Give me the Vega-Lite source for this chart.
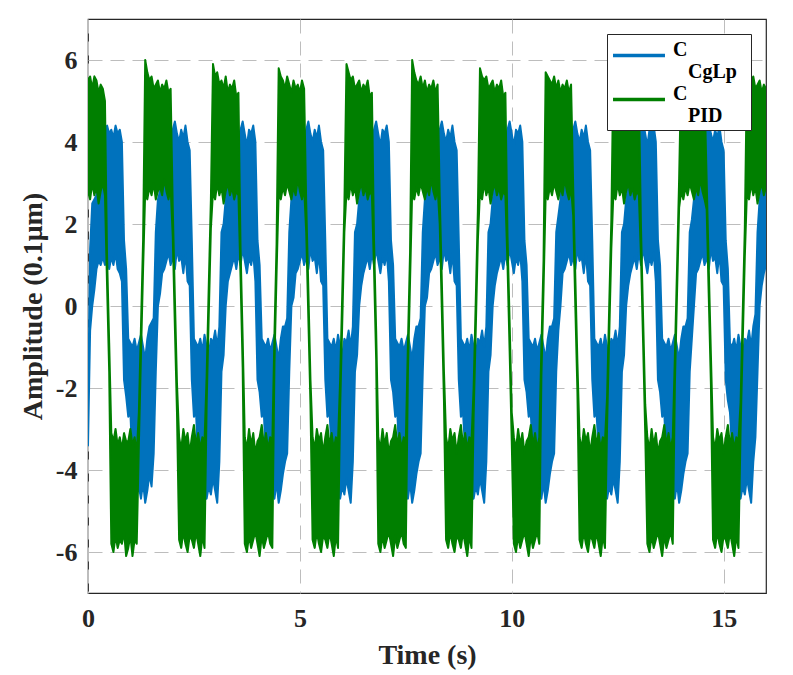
{
  "$schema": "https://vega.github.io/schema/vega-lite/v6.json",
  "width": 678,
  "height": 574,
  "autosize": {"type": "none"},
  "padding": {"left": 88, "top": 19, "right": 27, "bottom": 82},
  "background": "white",
  "data": {
    "values": [
      {"t":0.00,"bl":-3.4,"bh":-2.6,"gl":2.8,"gh":5.5},
      {"t":0.05,"bl":-0.6,"bh":1.4,"gl":2.6,"gh":5.6},
      {"t":0.10,"bl":0.0,"bh":2.5,"gl":3.0,"gh":5.3},
      {"t":0.15,"bl":0.4,"bh":2.6,"gl":2.7,"gh":5.6},
      {"t":0.20,"bl":0.9,"bh":2.7,"gl":2.9,"gh":5.5},
      {"t":0.25,"bl":1.1,"bh":3.2,"gl":2.5,"gh":5.2},
      {"t":0.30,"bl":1.0,"bh":3.8,"gl":2.8,"gh":5.4},
      {"t":0.35,"bl":1.2,"bh":4.0,"gl":3.0,"gh":5.3},
      {"t":0.40,"bl":1.0,"bh":4.3,"gl":2.7,"gh":5.0},
      {"t":0.45,"bl":1.3,"bh":4.4,"gl":0.5,"gh":1.2},
      {"t":0.50,"bl":0.9,"bh":4.2,"gl":-1.6,"gh":-0.9},
      {"t":0.55,"bl":1.2,"bh":4.3,"gl":-5.8,"gh":-3.1},
      {"t":0.60,"bl":1.0,"bh":4.1,"gl":-6.0,"gh":-3.3},
      {"t":0.65,"bl":1.3,"bh":4.4,"gl":-5.6,"gh":-3.0},
      {"t":0.70,"bl":0.9,"bh":4.2,"gl":-5.9,"gh":-3.4},
      {"t":0.75,"bl":0.8,"bh":4.3,"gl":-5.7,"gh":-3.2},
      {"t":0.80,"bl":0.6,"bh":4.0,"gl":-5.8,"gh":-3.5},
      {"t":0.85,"bl":-1.8,"bh":1.6,"gl":-5.5,"gh":-3.1},
      {"t":0.90,"bl":-2.2,"bh":0.9,"gl":-6.1,"gh":-3.3},
      {"t":0.95,"bl":-2.7,"bh":-0.8,"gl":-5.9,"gh":-3.3},
      {"t":1.00,"bl":-2.6,"bh":-0.9,"gl":-5.6,"gh":-3.0},
      {"t":1.05,"bl":-3.8,"bh":-1.0,"gl":-6.1,"gh":-3.4},
      {"t":1.10,"bl":-4.2,"bh":-0.8,"gl":-5.7,"gh":-3.2},
      {"t":1.15,"bl":-4.6,"bh":-1.1,"gl":-5.8,"gh":-3.6},
      {"t":1.20,"bl":-4.4,"bh":-0.9,"gl":-3.4,"gh":-2.6},
      {"t":1.25,"bl":-4.7,"bh":-0.7,"gl":-1.2,"gh":-0.5},
      {"t":1.30,"bl":-4.3,"bh":-1.0,"gl":0.9,"gh":1.6},
      {"t":1.35,"bl":-4.8,"bh":-1.3,"gl":2.8,"gh":6.0},
      {"t":1.40,"bl":-4.5,"bh":-0.8,"gl":2.6,"gh":5.7},
      {"t":1.45,"bl":-4.1,"bh":-0.5,"gl":2.9,"gh":5.5},
      {"t":1.50,"bl":-4.4,"bh":-0.4,"gl":2.7,"gh":5.6},
      {"t":1.55,"bl":-3.6,"bh":-0.3,"gl":3.0,"gh":5.3},
      {"t":1.60,"bl":-1.6,"bh":1.8,"gl":2.6,"gh":5.4},
      {"t":1.65,"bl":0.0,"bh":2.6,"gl":2.8,"gh":5.5},
      {"t":1.70,"bl":0.3,"bh":2.8,"gl":2.9,"gh":5.2},
      {"t":1.75,"bl":0.8,"bh":3.8,"gl":2.7,"gh":5.4},
      {"t":1.80,"bl":0.9,"bh":3.9,"gl":3.1,"gh":5.3},
      {"t":1.85,"bl":1.1,"bh":4.2,"gl":2.8,"gh":5.5},
      {"t":1.90,"bl":1.3,"bh":4.4,"gl":2.6,"gh":5.2},
      {"t":1.95,"bl":1.0,"bh":4.1,"gl":2.9,"gh":5.3},
      {"t":2.00,"bl":1.2,"bh":4.3,"gl":1.7,"gh":2.4},
      {"t":2.05,"bl":0.9,"bh":4.5,"gl":-0.5,"gh":0.2},
      {"t":2.10,"bl":1.4,"bh":4.2,"gl":-2.6,"gh":-1.9},
      {"t":2.15,"bl":1.1,"bh":4.0,"gl":-5.7,"gh":-3.2},
      {"t":2.20,"bl":1.2,"bh":4.3,"gl":-5.9,"gh":-3.5},
      {"t":2.25,"bl":0.8,"bh":4.1,"gl":-5.5,"gh":-3.0},
      {"t":2.30,"bl":1.3,"bh":4.4,"gl":-5.8,"gh":-3.3},
      {"t":2.35,"bl":0.6,"bh":4.0,"gl":-6.0,"gh":-3.1},
      {"t":2.40,"bl":0.5,"bh":3.8,"gl":-5.6,"gh":-3.6},
      {"t":2.45,"bl":-1.8,"bh":1.6,"gl":-5.7,"gh":-3.2},
      {"t":2.50,"bl":-2.7,"bh":-0.8,"gl":-5.9,"gh":-2.9},
      {"t":2.55,"bl":-2.6,"bh":-0.9,"gl":-5.5,"gh":-3.4},
      {"t":2.60,"bl":-3.8,"bh":-1.0,"gl":-5.8,"gh":-3.1},
      {"t":2.65,"bl":-4.1,"bh":-0.8,"gl":-6.1,"gh":-3.5},
      {"t":2.70,"bl":-4.6,"bh":-1.1,"gl":-5.6,"gh":-3.2},
      {"t":2.75,"bl":-4.3,"bh":-0.7,"gl":-5.9,"gh":-3.3},
      {"t":2.80,"bl":-4.7,"bh":-1.0,"gl":-2.4,"gh":-1.7},
      {"t":2.85,"bl":-4.4,"bh":-1.2,"gl":-0.2,"gh":0.5},
      {"t":2.90,"bl":-4.6,"bh":-0.8,"gl":1.9,"gh":2.6},
      {"t":2.95,"bl":-4.2,"bh":-0.9,"gl":2.8,"gh":5.9},
      {"t":3.00,"bl":-4.5,"bh":-0.6,"gl":2.6,"gh":5.6},
      {"t":3.05,"bl":-4.8,"bh":-1.0,"gl":3.0,"gh":5.7},
      {"t":3.10,"bl":-3.8,"bh":-0.5,"gl":2.7,"gh":5.4},
      {"t":3.15,"bl":-1.6,"bh":1.8,"gl":2.9,"gh":5.5},
      {"t":3.20,"bl":-1.2,"bh":2.0,"gl":2.5,"gh":5.3},
      {"t":3.25,"bl":0.0,"bh":2.6,"gl":2.8,"gh":5.6},
      {"t":3.30,"bl":0.6,"bh":3.0,"gl":3.0,"gh":5.2},
      {"t":3.35,"bl":0.8,"bh":3.8,"gl":2.7,"gh":5.4},
      {"t":3.40,"bl":1.0,"bh":3.9,"gl":2.9,"gh":5.3},
      {"t":3.45,"bl":1.2,"bh":4.2,"gl":2.6,"gh":5.5},
      {"t":3.50,"bl":0.9,"bh":4.4,"gl":2.8,"gh":5.1},
      {"t":3.55,"bl":1.3,"bh":4.1,"gl":2.7,"gh":5.2},
      {"t":3.60,"bl":1.0,"bh":4.3,"gl":0.7,"gh":1.4},
      {"t":3.65,"bl":1.4,"bh":4.5,"gl":-1.5,"gh":-0.8},
      {"t":3.70,"bl":1.1,"bh":4.2,"gl":-5.8,"gh":-3.2},
      {"t":3.75,"bl":0.8,"bh":3.9,"gl":-6.0,"gh":-3.5},
      {"t":3.80,"bl":1.2,"bh":4.3,"gl":-5.6,"gh":-3.0},
      {"t":3.85,"bl":1.0,"bh":4.2,"gl":-5.9,"gh":-3.4},
      {"t":3.90,"bl":1.3,"bh":4.4,"gl":-5.7,"gh":-3.1},
      {"t":3.95,"bl":0.6,"bh":4.0,"gl":-5.5,"gh":-3.6},
      {"t":4.00,"bl":-1.8,"bh":1.6,"gl":-5.8,"gh":-3.3},
      {"t":4.05,"bl":-2.1,"bh":1.0,"gl":-6.1,"gh":-3.2},
      {"t":4.10,"bl":-2.7,"bh":-0.8,"gl":-5.6,"gh":-2.9},
      {"t":4.15,"bl":-2.6,"bh":-0.9,"gl":-5.9,"gh":-3.4},
      {"t":4.20,"bl":-3.8,"bh":-1.0,"gl":-5.7,"gh":-3.1},
      {"t":4.25,"bl":-4.2,"bh":-0.8,"gl":-5.5,"gh":-3.5},
      {"t":4.30,"bl":-4.6,"bh":-1.1,"gl":-5.8,"gh":-3.2},
      {"t":4.35,"bl":-4.4,"bh":-0.9,"gl":-5.9,"gh":-3.3},
      {"t":4.40,"bl":-4.7,"bh":-0.7,"gl":-1.4,"gh":-0.7},
      {"t":4.45,"bl":-4.3,"bh":-1.0,"gl":0.8,"gh":1.5},
      {"t":4.50,"bl":-4.8,"bh":-1.3,"gl":2.8,"gh":5.8},
      {"t":4.55,"bl":-4.5,"bh":-0.8,"gl":2.6,"gh":5.6},
      {"t":4.60,"bl":-4.1,"bh":-0.5,"gl":2.9,"gh":5.5},
      {"t":4.65,"bl":-3.8,"bh":-0.5,"gl":2.7,"gh":5.3},
      {"t":4.70,"bl":-3.6,"bh":-0.3,"gl":3.0,"gh":5.6},
      {"t":4.75,"bl":-1.6,"bh":1.8,"gl":2.8,"gh":5.4},
      {"t":4.80,"bl":0.0,"bh":2.6,"gl":2.6,"gh":5.2},
      {"t":4.85,"bl":0.2,"bh":2.7,"gl":2.9,"gh":5.5},
      {"t":4.90,"bl":0.8,"bh":3.8,"gl":2.7,"gh":5.3},
      {"t":4.95,"bl":0.9,"bh":3.9,"gl":3.1,"gh":5.4},
      {"t":5.00,"bl":1.1,"bh":4.2,"gl":2.8,"gh":5.2},
      {"t":5.05,"bl":1.3,"bh":4.4,"gl":2.6,"gh":5.5},
      {"t":5.10,"bl":1.0,"bh":4.1,"gl":2.9,"gh":5.3},
      {"t":5.15,"bl":1.2,"bh":4.3,"gl":1.8,"gh":2.5},
      {"t":5.20,"bl":0.9,"bh":4.5,"gl":-0.3,"gh":0.4},
      {"t":5.25,"bl":1.4,"bh":4.2,"gl":-2.4,"gh":-1.8},
      {"t":5.30,"bl":1.1,"bh":4.0,"gl":-5.7,"gh":-3.2},
      {"t":5.35,"bl":1.2,"bh":4.3,"gl":-5.9,"gh":-3.5},
      {"t":5.40,"bl":0.8,"bh":4.1,"gl":-5.5,"gh":-3.0},
      {"t":5.45,"bl":1.3,"bh":4.4,"gl":-5.8,"gh":-3.3},
      {"t":5.50,"bl":0.6,"bh":4.0,"gl":-6.0,"gh":-3.1},
      {"t":5.55,"bl":0.5,"bh":3.8,"gl":-5.6,"gh":-3.6},
      {"t":5.60,"bl":-1.8,"bh":1.6,"gl":-5.7,"gh":-3.2},
      {"t":5.65,"bl":-2.7,"bh":-0.8,"gl":-5.9,"gh":-2.9},
      {"t":5.70,"bl":-2.6,"bh":-0.9,"gl":-5.5,"gh":-3.4},
      {"t":5.75,"bl":-3.5,"bh":-1.0,"gl":-5.8,"gh":-3.1},
      {"t":5.80,"bl":-3.9,"bh":-0.8,"gl":-6.1,"gh":-3.5},
      {"t":5.85,"bl":-4.6,"bh":-1.1,"gl":-5.6,"gh":-3.2},
      {"t":5.90,"bl":-4.3,"bh":-0.7,"gl":-5.9,"gh":-3.3},
      {"t":5.95,"bl":-4.7,"bh":-1.0,"gl":-2.5,"gh":-1.8},
      {"t":6.00,"bl":-4.4,"bh":-1.2,"gl":-0.4,"gh":0.3},
      {"t":6.05,"bl":-4.6,"bh":-0.8,"gl":1.8,"gh":2.4},
      {"t":6.10,"bl":-4.2,"bh":-0.9,"gl":2.8,"gh":5.9},
      {"t":6.15,"bl":-4.5,"bh":-0.6,"gl":2.6,"gh":5.7},
      {"t":6.20,"bl":-4.8,"bh":-1.0,"gl":3.0,"gh":5.5},
      {"t":6.25,"bl":-3.8,"bh":-0.5,"gl":2.7,"gh":5.6},
      {"t":6.30,"bl":-1.6,"bh":1.8,"gl":2.9,"gh":5.3},
      {"t":6.35,"bl":-1.2,"bh":2.0,"gl":2.5,"gh":5.4},
      {"t":6.40,"bl":0.0,"bh":2.6,"gl":2.8,"gh":5.5},
      {"t":6.45,"bl":0.5,"bh":2.9,"gl":3.0,"gh":5.2},
      {"t":6.50,"bl":0.8,"bh":3.8,"gl":2.7,"gh":5.4},
      {"t":6.55,"bl":1.0,"bh":3.9,"gl":2.9,"gh":5.3},
      {"t":6.60,"bl":1.2,"bh":4.2,"gl":2.6,"gh":5.5},
      {"t":6.65,"bl":0.9,"bh":4.4,"gl":2.8,"gh":5.1},
      {"t":6.70,"bl":1.3,"bh":4.1,"gl":2.7,"gh":5.2},
      {"t":6.75,"bl":1.0,"bh":4.3,"gl":0.9,"gh":1.6},
      {"t":6.80,"bl":1.4,"bh":4.5,"gl":-1.3,"gh":-0.6},
      {"t":6.85,"bl":1.1,"bh":4.2,"gl":-5.8,"gh":-3.2},
      {"t":6.90,"bl":0.8,"bh":3.9,"gl":-6.0,"gh":-3.5},
      {"t":6.95,"bl":1.2,"bh":4.3,"gl":-5.6,"gh":-3.0},
      {"t":7.00,"bl":1.0,"bh":4.2,"gl":-5.9,"gh":-3.4},
      {"t":7.05,"bl":1.3,"bh":4.4,"gl":-5.7,"gh":-3.1},
      {"t":7.10,"bl":0.6,"bh":4.0,"gl":-5.5,"gh":-3.6},
      {"t":7.15,"bl":-1.8,"bh":1.6,"gl":-5.8,"gh":-3.3},
      {"t":7.20,"bl":-2.1,"bh":1.0,"gl":-6.1,"gh":-3.2},
      {"t":7.25,"bl":-2.7,"bh":-0.8,"gl":-5.6,"gh":-2.9},
      {"t":7.30,"bl":-2.6,"bh":-0.9,"gl":-5.9,"gh":-3.4},
      {"t":7.35,"bl":-3.8,"bh":-1.0,"gl":-5.7,"gh":-3.1},
      {"t":7.40,"bl":-4.2,"bh":-0.8,"gl":-5.5,"gh":-3.5},
      {"t":7.45,"bl":-4.6,"bh":-1.1,"gl":-5.8,"gh":-3.2},
      {"t":7.50,"bl":-4.4,"bh":-0.9,"gl":-5.9,"gh":-3.3},
      {"t":7.55,"bl":-4.7,"bh":-0.7,"gl":-1.6,"gh":-0.9},
      {"t":7.60,"bl":-4.3,"bh":-1.0,"gl":0.6,"gh":1.3},
      {"t":7.65,"bl":-4.8,"bh":-1.3,"gl":2.8,"gh":6.0},
      {"t":7.70,"bl":-4.5,"bh":-0.8,"gl":2.6,"gh":5.7},
      {"t":7.75,"bl":-4.1,"bh":-0.5,"gl":2.9,"gh":5.5},
      {"t":7.80,"bl":-3.8,"bh":-0.5,"gl":2.7,"gh":5.4},
      {"t":7.85,"bl":-3.6,"bh":-0.3,"gl":3.0,"gh":5.6},
      {"t":7.90,"bl":-1.6,"bh":1.8,"gl":2.8,"gh":5.3},
      {"t":7.95,"bl":0.0,"bh":2.6,"gl":2.6,"gh":5.5},
      {"t":8.00,"bl":0.2,"bh":2.7,"gl":2.9,"gh":5.2},
      {"t":8.05,"bl":0.8,"bh":3.8,"gl":2.7,"gh":5.4},
      {"t":8.10,"bl":0.9,"bh":3.9,"gl":3.1,"gh":5.3},
      {"t":8.15,"bl":1.1,"bh":4.2,"gl":2.8,"gh":5.5},
      {"t":8.20,"bl":1.3,"bh":4.4,"gl":2.6,"gh":5.2},
      {"t":8.25,"bl":1.0,"bh":4.1,"gl":2.9,"gh":5.4},
      {"t":8.30,"bl":1.2,"bh":4.3,"gl":2.0,"gh":2.7},
      {"t":8.35,"bl":0.9,"bh":4.5,"gl":-0.1,"gh":0.6},
      {"t":8.40,"bl":1.4,"bh":4.2,"gl":-2.3,"gh":-1.6},
      {"t":8.45,"bl":1.1,"bh":4.0,"gl":-5.7,"gh":-3.2},
      {"t":8.50,"bl":1.2,"bh":4.3,"gl":-5.9,"gh":-3.5},
      {"t":8.55,"bl":0.8,"bh":4.1,"gl":-5.5,"gh":-3.0},
      {"t":8.60,"bl":1.3,"bh":4.4,"gl":-5.8,"gh":-3.3},
      {"t":8.65,"bl":0.6,"bh":4.0,"gl":-6.0,"gh":-3.1},
      {"t":8.70,"bl":0.5,"bh":3.8,"gl":-5.6,"gh":-3.6},
      {"t":8.75,"bl":-1.8,"bh":1.6,"gl":-5.7,"gh":-3.2},
      {"t":8.80,"bl":-2.7,"bh":-0.8,"gl":-5.9,"gh":-2.9},
      {"t":8.85,"bl":-2.6,"bh":-0.9,"gl":-5.5,"gh":-3.4},
      {"t":8.90,"bl":-3.5,"bh":-1.0,"gl":-5.8,"gh":-3.1},
      {"t":8.95,"bl":-3.9,"bh":-0.8,"gl":-6.1,"gh":-3.5},
      {"t":9.00,"bl":-4.6,"bh":-1.1,"gl":-5.6,"gh":-3.2},
      {"t":9.05,"bl":-4.3,"bh":-0.7,"gl":-5.9,"gh":-3.3},
      {"t":9.10,"bl":-4.7,"bh":-1.0,"gl":-2.7,"gh":-2.0},
      {"t":9.15,"bl":-4.4,"bh":-1.2,"gl":-0.6,"gh":0.1},
      {"t":9.20,"bl":-4.6,"bh":-0.8,"gl":1.6,"gh":2.3},
      {"t":9.25,"bl":-4.2,"bh":-0.9,"gl":2.8,"gh":5.8},
      {"t":9.30,"bl":-4.5,"bh":-0.6,"gl":2.6,"gh":5.6},
      {"t":9.35,"bl":-4.8,"bh":-1.0,"gl":3.0,"gh":5.5},
      {"t":9.40,"bl":-3.8,"bh":-0.5,"gl":2.7,"gh":5.6},
      {"t":9.45,"bl":-1.6,"bh":1.8,"gl":2.9,"gh":5.3},
      {"t":9.50,"bl":-1.2,"bh":2.0,"gl":2.5,"gh":5.4},
      {"t":9.55,"bl":0.0,"bh":2.6,"gl":2.8,"gh":5.5},
      {"t":9.60,"bl":0.5,"bh":2.9,"gl":3.0,"gh":5.2},
      {"t":9.65,"bl":0.8,"bh":3.8,"gl":2.7,"gh":5.4},
      {"t":9.70,"bl":1.0,"bh":3.9,"gl":2.9,"gh":5.3},
      {"t":9.75,"bl":1.2,"bh":4.2,"gl":2.6,"gh":5.5},
      {"t":9.80,"bl":0.9,"bh":4.4,"gl":2.8,"gh":5.1},
      {"t":9.85,"bl":1.3,"bh":4.1,"gl":2.7,"gh":5.2},
      {"t":9.90,"bl":1.0,"bh":4.3,"gl":1.0,"gh":1.7},
      {"t":9.95,"bl":1.4,"bh":4.5,"gl":-1.1,"gh":-0.4},
      {"t":10.00,"bl":1.1,"bh":4.2,"gl":-3.3,"gh":-2.6},
      {"t":10.05,"bl":0.8,"bh":3.9,"gl":-5.8,"gh":-3.2},
      {"t":10.10,"bl":1.2,"bh":4.3,"gl":-6.0,"gh":-3.5},
      {"t":10.15,"bl":1.0,"bh":4.2,"gl":-5.6,"gh":-3.0},
      {"t":10.20,"bl":1.3,"bh":4.4,"gl":-5.9,"gh":-3.4},
      {"t":10.25,"bl":0.6,"bh":4.0,"gl":-5.7,"gh":-3.1},
      {"t":10.30,"bl":-1.8,"bh":1.6,"gl":-5.5,"gh":-3.6},
      {"t":10.35,"bl":-2.1,"bh":1.0,"gl":-5.8,"gh":-3.3},
      {"t":10.40,"bl":-2.7,"bh":-0.8,"gl":-6.1,"gh":-3.2},
      {"t":10.45,"bl":-2.6,"bh":-0.9,"gl":-5.6,"gh":-2.9},
      {"t":10.50,"bl":-3.8,"bh":-1.0,"gl":-5.9,"gh":-3.4},
      {"t":10.55,"bl":-4.2,"bh":-0.8,"gl":-5.7,"gh":-3.1},
      {"t":10.60,"bl":-4.6,"bh":-1.1,"gl":-5.5,"gh":-3.5},
      {"t":10.65,"bl":-4.4,"bh":-0.9,"gl":-5.8,"gh":-3.2},
      {"t":10.70,"bl":-4.7,"bh":-0.7,"gl":-1.7,"gh":-1.0},
      {"t":10.75,"bl":-4.3,"bh":-1.0,"gl":0.4,"gh":1.1},
      {"t":10.80,"bl":-4.8,"bh":-1.3,"gl":2.7,"gh":5.7},
      {"t":10.85,"bl":-4.5,"bh":-0.8,"gl":2.6,"gh":5.6},
      {"t":10.90,"bl":-4.1,"bh":-0.5,"gl":2.9,"gh":5.5},
      {"t":10.95,"bl":-3.8,"bh":-0.5,"gl":2.7,"gh":5.4},
      {"t":11.00,"bl":-3.6,"bh":-0.3,"gl":3.0,"gh":5.6},
      {"t":11.05,"bl":-1.6,"bh":1.8,"gl":2.8,"gh":5.3},
      {"t":11.10,"bl":-0.6,"bh":2.2,"gl":2.6,"gh":5.5},
      {"t":11.15,"bl":0.0,"bh":2.6,"gl":2.9,"gh":5.2},
      {"t":11.20,"bl":0.8,"bh":3.8,"gl":2.7,"gh":5.4},
      {"t":11.25,"bl":0.9,"bh":3.9,"gl":3.1,"gh":5.3},
      {"t":11.30,"bl":1.1,"bh":4.2,"gl":2.8,"gh":5.5},
      {"t":11.35,"bl":1.3,"bh":4.4,"gl":2.6,"gh":5.2},
      {"t":11.40,"bl":1.0,"bh":4.1,"gl":2.9,"gh":5.4},
      {"t":11.45,"bl":1.2,"bh":4.3,"gl":2.2,"gh":2.9},
      {"t":11.50,"bl":0.9,"bh":4.5,"gl":0.0,"gh":0.7},
      {"t":11.55,"bl":1.4,"bh":4.2,"gl":-2.1,"gh":-1.4},
      {"t":11.60,"bl":1.1,"bh":4.0,"gl":-5.7,"gh":-3.2},
      {"t":11.65,"bl":1.2,"bh":4.3,"gl":-5.9,"gh":-3.5},
      {"t":11.70,"bl":0.8,"bh":4.1,"gl":-5.5,"gh":-3.0},
      {"t":11.75,"bl":1.3,"bh":4.4,"gl":-5.8,"gh":-3.3},
      {"t":11.80,"bl":0.6,"bh":4.0,"gl":-6.0,"gh":-3.1},
      {"t":11.85,"bl":0.5,"bh":3.8,"gl":-5.6,"gh":-3.6},
      {"t":11.90,"bl":-1.8,"bh":1.6,"gl":-5.7,"gh":-3.2},
      {"t":11.95,"bl":-2.7,"bh":-0.8,"gl":-5.9,"gh":-2.9},
      {"t":12.00,"bl":-2.6,"bh":-0.9,"gl":-5.5,"gh":-3.4},
      {"t":12.05,"bl":-3.5,"bh":-1.0,"gl":-5.8,"gh":-3.1},
      {"t":12.10,"bl":-3.9,"bh":-0.8,"gl":-6.1,"gh":-3.5},
      {"t":12.15,"bl":-4.6,"bh":-1.1,"gl":-5.6,"gh":-3.2},
      {"t":12.20,"bl":-4.3,"bh":-0.7,"gl":-5.9,"gh":-3.3},
      {"t":12.25,"bl":-4.7,"bh":-1.0,"gl":-2.9,"gh":-2.2},
      {"t":12.30,"bl":-4.4,"bh":-1.2,"gl":-0.7,"gh":0.0},
      {"t":12.35,"bl":-4.6,"bh":-0.8,"gl":1.4,"gh":2.1},
      {"t":12.40,"bl":-4.2,"bh":-0.9,"gl":2.8,"gh":5.9},
      {"t":12.45,"bl":-4.5,"bh":-0.6,"gl":2.6,"gh":5.7},
      {"t":12.50,"bl":-4.8,"bh":-1.0,"gl":3.0,"gh":5.5},
      {"t":12.55,"bl":-3.8,"bh":-0.5,"gl":2.7,"gh":5.6},
      {"t":12.60,"bl":-1.6,"bh":1.8,"gl":2.9,"gh":5.3},
      {"t":12.65,"bl":-1.2,"bh":2.0,"gl":2.5,"gh":5.4},
      {"t":12.70,"bl":0.0,"bh":2.6,"gl":2.8,"gh":5.5},
      {"t":12.75,"bl":0.5,"bh":2.9,"gl":3.0,"gh":5.2},
      {"t":12.80,"bl":0.8,"bh":3.8,"gl":2.7,"gh":5.4},
      {"t":12.85,"bl":1.0,"bh":3.9,"gl":2.9,"gh":5.3},
      {"t":12.90,"bl":1.2,"bh":4.2,"gl":2.6,"gh":5.5},
      {"t":12.95,"bl":0.9,"bh":4.4,"gl":2.8,"gh":5.1},
      {"t":13.00,"bl":1.3,"bh":4.1,"gl":2.7,"gh":5.2},
      {"t":13.05,"bl":1.0,"bh":4.3,"gl":1.2,"gh":1.9},
      {"t":13.10,"bl":1.4,"bh":4.5,"gl":-0.9,"gh":-0.3},
      {"t":13.15,"bl":1.1,"bh":4.2,"gl":-3.1,"gh":-2.4},
      {"t":13.20,"bl":0.8,"bh":3.9,"gl":-5.8,"gh":-3.2},
      {"t":13.25,"bl":1.2,"bh":4.3,"gl":-6.0,"gh":-3.5},
      {"t":13.30,"bl":1.0,"bh":4.2,"gl":-5.6,"gh":-3.0},
      {"t":13.35,"bl":1.3,"bh":4.4,"gl":-5.9,"gh":-3.4},
      {"t":13.40,"bl":0.6,"bh":4.0,"gl":-5.7,"gh":-3.1},
      {"t":13.45,"bl":-1.8,"bh":1.6,"gl":-5.5,"gh":-3.6},
      {"t":13.50,"bl":-2.1,"bh":1.0,"gl":-5.8,"gh":-3.3},
      {"t":13.55,"bl":-2.7,"bh":-0.8,"gl":-6.1,"gh":-3.2},
      {"t":13.60,"bl":-2.6,"bh":-0.9,"gl":-5.6,"gh":-2.9},
      {"t":13.65,"bl":-3.8,"bh":-1.0,"gl":-5.9,"gh":-3.4},
      {"t":13.70,"bl":-4.2,"bh":-0.8,"gl":-5.7,"gh":-3.1},
      {"t":13.75,"bl":-4.6,"bh":-1.1,"gl":-5.5,"gh":-3.5},
      {"t":13.80,"bl":-4.4,"bh":-0.9,"gl":-5.8,"gh":-3.2},
      {"t":13.85,"bl":-4.7,"bh":-0.7,"gl":-1.9,"gh":-1.2},
      {"t":13.90,"bl":-4.3,"bh":-1.0,"gl":0.3,"gh":0.9},
      {"t":13.95,"bl":-4.8,"bh":-1.3,"gl":2.4,"gh":3.1},
      {"t":14.00,"bl":-4.5,"bh":-0.8,"gl":2.8,"gh":5.8},
      {"t":14.05,"bl":-4.1,"bh":-0.5,"gl":2.6,"gh":5.6},
      {"t":14.10,"bl":-3.8,"bh":-0.5,"gl":2.9,"gh":5.5},
      {"t":14.15,"bl":-3.6,"bh":-0.3,"gl":2.7,"gh":5.4},
      {"t":14.20,"bl":-1.6,"bh":1.8,"gl":3.0,"gh":5.6},
      {"t":14.25,"bl":-0.8,"bh":2.1,"gl":2.8,"gh":5.3},
      {"t":14.30,"bl":0.0,"bh":2.6,"gl":2.6,"gh":5.5},
      {"t":14.35,"bl":0.8,"bh":3.8,"gl":2.9,"gh":5.2},
      {"t":14.40,"bl":0.9,"bh":3.9,"gl":2.7,"gh":5.4},
      {"t":14.45,"bl":1.1,"bh":4.2,"gl":3.1,"gh":5.3},
      {"t":14.50,"bl":1.3,"bh":4.4,"gl":2.8,"gh":5.5},
      {"t":14.55,"bl":1.0,"bh":4.1,"gl":2.6,"gh":5.2},
      {"t":14.60,"bl":1.2,"bh":4.3,"gl":2.35,"gh":3.05},
      {"t":14.65,"bl":0.9,"bh":4.5,"gl":0.2,"gh":0.9},
      {"t":14.70,"bl":1.4,"bh":4.2,"gl":-1.9,"gh":-1.2},
      {"t":14.75,"bl":1.1,"bh":4.0,"gl":-5.7,"gh":-3.2},
      {"t":14.80,"bl":1.2,"bh":4.3,"gl":-5.9,"gh":-3.5},
      {"t":14.85,"bl":0.8,"bh":4.1,"gl":-5.5,"gh":-3.0},
      {"t":14.90,"bl":1.3,"bh":4.4,"gl":-5.8,"gh":-3.3},
      {"t":14.95,"bl":0.6,"bh":4.0,"gl":-6.0,"gh":-3.1},
      {"t":15.00,"bl":0.5,"bh":3.8,"gl":-5.6,"gh":-3.6},
      {"t":15.05,"bl":-1.8,"bh":1.6,"gl":-5.7,"gh":-3.2},
      {"t":15.10,"bl":-2.3,"bh":0.9,"gl":-5.9,"gh":-2.9},
      {"t":15.15,"bl":-2.6,"bh":-0.9,"gl":-5.5,"gh":-3.4},
      {"t":15.20,"bl":-3.5,"bh":-1.0,"gl":-5.8,"gh":-3.1},
      {"t":15.25,"bl":-3.9,"bh":-0.8,"gl":-6.1,"gh":-3.5},
      {"t":15.30,"bl":-4.6,"bh":-1.1,"gl":-5.6,"gh":-3.2},
      {"t":15.35,"bl":-4.3,"bh":-0.7,"gl":-5.9,"gh":-3.3},
      {"t":15.40,"bl":-4.7,"bh":-1.0,"gl":-3.05,"gh":-2.35},
      {"t":15.45,"bl":-4.4,"bh":-1.2,"gl":-0.9,"gh":-0.2},
      {"t":15.50,"bl":-4.6,"bh":-0.8,"gl":1.2,"gh":1.9},
      {"t":15.55,"bl":-4.2,"bh":-0.9,"gl":2.8,"gh":5.7},
      {"t":15.60,"bl":-4.5,"bh":-0.6,"gl":2.6,"gh":5.6},
      {"t":15.65,"bl":-4.8,"bh":-1.0,"gl":3.0,"gh":5.5},
      {"t":15.70,"bl":-3.8,"bh":-0.5,"gl":2.7,"gh":5.6},
      {"t":15.75,"bl":-3.2,"bh":-0.2,"gl":2.9,"gh":5.3},
      {"t":15.80,"bl":-1.6,"bh":1.8,"gl":2.5,"gh":5.4},
      {"t":15.85,"bl":0.0,"bh":2.6,"gl":2.8,"gh":5.5},
      {"t":15.90,"bl":0.5,"bh":2.9,"gl":3.0,"gh":5.2},
      {"t":15.95,"bl":0.8,"bh":3.8,"gl":2.7,"gh":5.4},
      {"t":16.00,"bl":1.0,"bh":3.9,"gl":2.9,"gh":5.3}
    ]
  },
  "encoding": {
    "x": {
      "field": "t",
      "type": "quantitative",
      "scale": {"domain": [0, 16], "nice": false},
      "axis": {"title": "Time (s)", "values": [0, 5, 10, 15], "labelFlush": false, "labelPadding": 12, "titlePadding": 10}
    }
  },
  "layer": [
    {
      "mark": {"type": "area", "fill": "#0072BD", "strokeWidth": 2, "strokeJoin": "round", "clip": true},
      "encoding": {
        "y": {
          "field": "bl",
          "type": "quantitative",
          "scale": {"domain": [-7, 7], "nice": false},
          "axis": {"title": "Amplitude (0.1μm)", "values": [-6, -4, -2, 0, 2, 4, 6], "labelExpr": "toString(datum.value)", "labelPadding": 11, "titlePadding": 8}
        },
        "y2": {"field": "bh"},
        "stroke": {
          "datum": "CgLp",
          "scale": {"domain": ["CgLp", "PID"], "range": ["#0072BD", "#007F00"]},
          "legend": {
            "title": null,
            "orient": "top-right",
            "offset": 15,
            "symbolType": "stroke",
            "symbolSize": 2700,
            "symbolStrokeWidth": 3.5,
            "labelFont": "Liberation Serif",
            "labelFontWeight": "bold",
            "labelFontSize": 20,
            "labelBaseline": "alphabetic",
            "labelColor": "black",
            "labelLimit": 0,
            "labelOffset": 6,
            "labelExpr": "['C', '\u200b\u00a0\u00a0\u00a0' + datum.label + '\u00a0\u00a0\u200b']",
            "clipHeight": 35,
            "strokeColor": "#262626",
            "fillColor": "white",
            "padding": 4,
            "rowPadding": 0
          }
        }
      }
    },
    {
      "mark": {"type": "area", "fill": "#007F00", "strokeWidth": 2, "strokeJoin": "round", "clip": true},
      "encoding": {
        "y": {"field": "gl", "type": "quantitative"},
        "y2": {"field": "gh"},
        "stroke": {"datum": "PID"}
      }
    }
  ],
  "config": {
    "view": {"stroke": "#262626", "strokeWidth": 1.2},
    "axis": {
      "labelFont": "Liberation Serif",
      "titleFont": "Liberation Serif",
      "labelFontWeight": "bold",
      "titleFontWeight": "bold",
      "labelFontSize": 26,
      "titleFontSize": 28,
      "labelColor": "#262626",
      "titleColor": "#262626",
      "domain": false,
      "ticks": false,
      "gridColor": "#bdbdbd",
      "gridDash": [14, 8],
      "gridWidth": 1
    }
  }
}
